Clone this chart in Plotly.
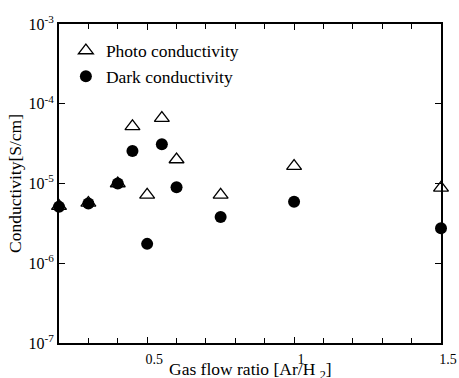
import plotly.graph_objects as go

ratio_photo = [0.2, 0.3, 0.4, 0.45, 0.5, 0.55, 0.6, 0.75, 1.0, 1.5]
photo = [5.2e-6, 5.7e-6, 1.0e-5, 5.2e-5, 7.2e-6, 6.6e-5, 2.0e-5, 7.2e-6, 1.65e-5, 8.8e-6]
ratio_dark = [0.2, 0.3, 0.4, 0.45, 0.5, 0.55, 0.6, 0.75, 1.0, 1.5]
dark = [5.1e-6, 5.6e-6, 1.0e-5, 2.55e-5, 1.75e-6, 3.1e-5, 9.0e-6, 3.8e-6, 5.9e-6, 2.75e-6]

ytickvals = [1e-7, 1e-6, 1e-5, 1e-4, 1e-3]
yticktext = ["10<sup>-7</sup>", "10<sup>-6</sup>", "10<sup>-5</sup>", "10<sup>-4</sup>", "10<sup>-3</sup>"]
xtickvals = [0.5, 1, 1.5]
xticktext = ["0.5", "1", "1.5"]
x_title = "Gas flow ratio [Ar/H <sub>2</sub>]"
y_title = "Conductivity[S/cm]"

font = "Liberation Serif, Times New Roman, serif"

fig = go.Figure()
fig.add_trace(go.Scatter(
    x=ratio_photo, y=photo, mode="markers", name="Photo conductivity",
    marker=dict(symbol="triangle-up-open", size=13, color="black", line=dict(width=1.3, color="black")),
    cliponaxis=False,
))
fig.add_trace(go.Scatter(
    x=ratio_dark, y=dark, mode="markers", name="Dark conductivity",
    marker=dict(symbol="circle", size=12, color="black"),
    cliponaxis=False,
))

fig.update_layout(
    width=459, height=378,
    margin=dict(l=59, r=18, t=24, b=35),
    paper_bgcolor="white", plot_bgcolor="white",
    font=dict(family=font, size=16, color="black"),
    showlegend=True,
    legend=dict(x=0.018, y=0.973, xanchor="left", yanchor="top",
                bgcolor="rgba(0,0,0,0)", font=dict(family=font, size=17.5),
                itemsizing="trace", tracegroupgap=0),
    xaxis=dict(
        range=[0.2, 1.5], tickvals=xtickvals, ticktext=xticktext,
        ticks="inside", ticklen=6, tickwidth=1, tickcolor="black",
        showline=True, linecolor="black", linewidth=2, mirror="ticks",
        showgrid=False, zeroline=False, automargin=False,
        minor=dict(dtick=0.1, tick0=0.2, ticks="inside", ticklen=5, tickcolor="black", showgrid=False),
        tickfont=dict(family=font, size=14),
        ticklabelshift=7, ticklabelstandoff=2,
    ),
    yaxis=dict(
        type="log", range=[-7, -3], tickvals=ytickvals, ticktext=yticktext,
        ticks="inside", ticklen=6, tickwidth=1, tickcolor="black",
        showline=True, linecolor="black", linewidth=2, mirror="ticks",
        showgrid=False, zeroline=False, automargin=False,
        title=dict(text=y_title, standoff=2, font=dict(family=font, size=17.5)),
        tickfont=dict(family=font, size=16),
    ),
    annotations=[dict(
        text=x_title, xref="paper", yref="paper", x=0.5, y=-0.087,
        xanchor="center", yanchor="middle", showarrow=False,
        font=dict(family=font, size=17.5, color="black"),
    )],
)

fig.write_html("out.html", config={"displayModeBar": False},
               post_script="document.body.style.margin='0';document.body.style.padding='0';")
